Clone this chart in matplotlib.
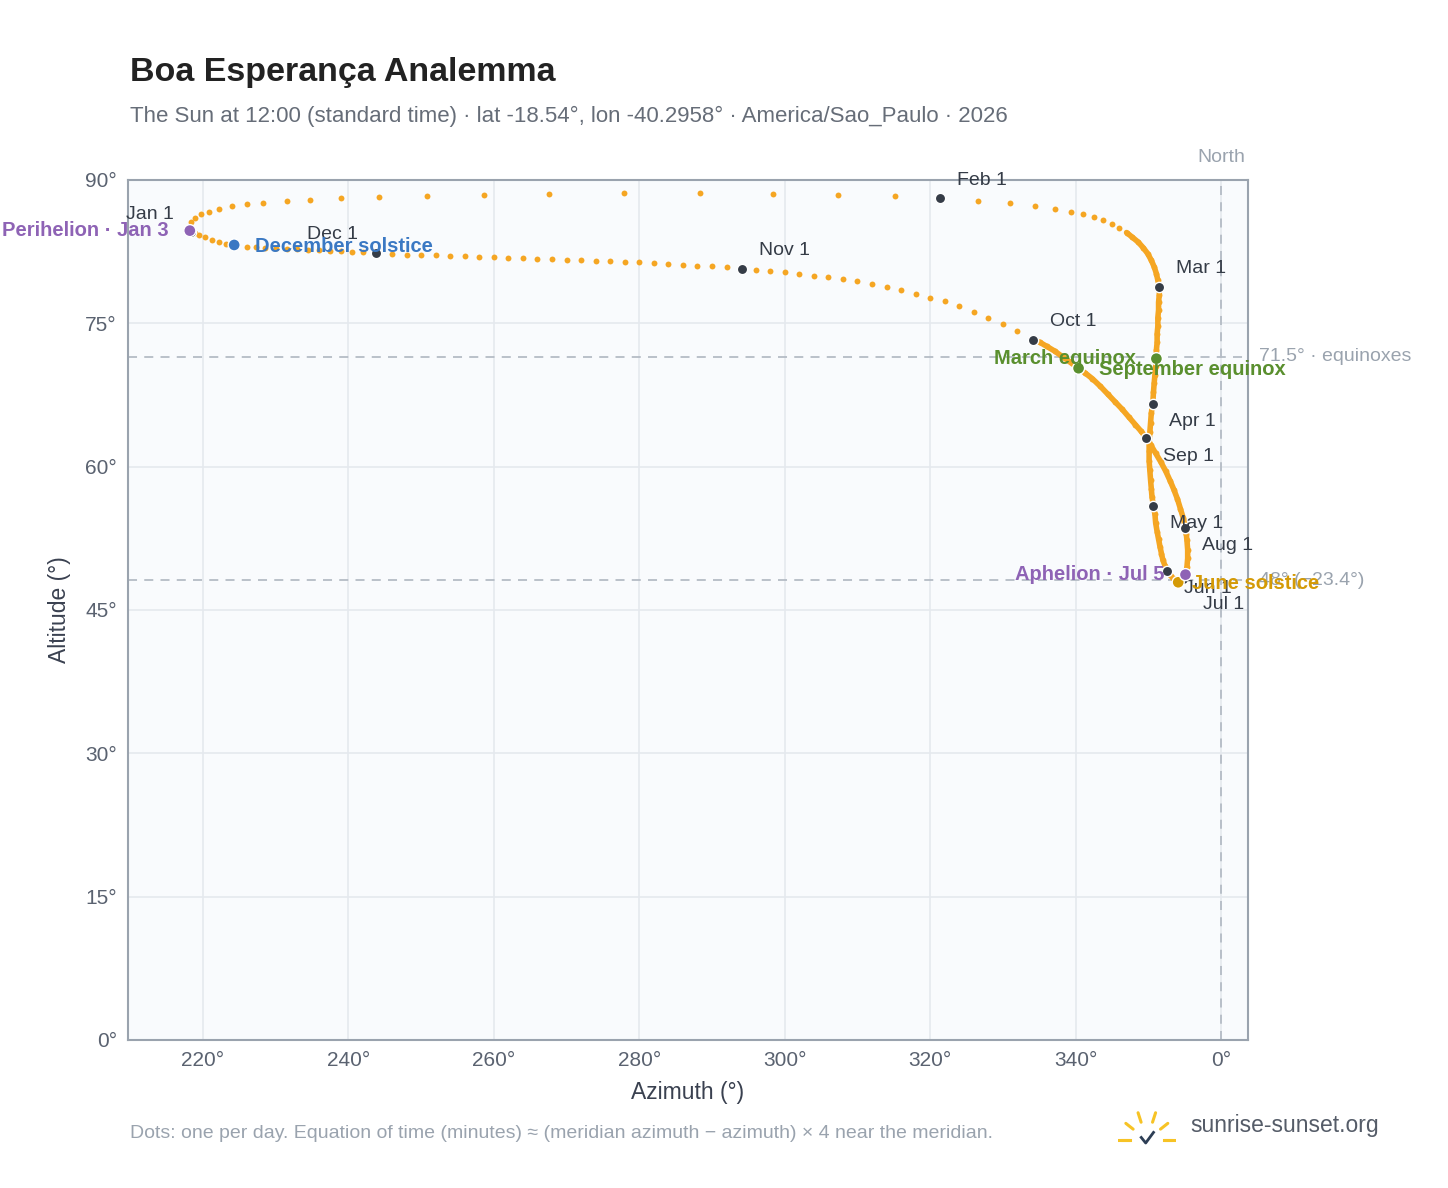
import numpy as np
import matplotlib.pyplot as plt

plt.rcParams["font.family"] = ["Liberation Sans", "DejaVu Sans"]

# track of the sun at local noon (azimuth, altitude)
track_az = [218.4, 218.1, 218.3, 218.9, 219.7, 220.8, 222.2, 224.0, 226.0, 228.3, 231.6, 234.7, 239.0,
            244.2, 250.8, 258.7, 267.6, 277.9, 288.4, 298.4, 307.3, 315.2, 321.4,
            326.6, 331.0, 334.4, 337.1, 339.3, 341.0, 342.5, 343.8, 345.0, 346.0, 347.0, 347.8, 348.6,
            349.3, 349.9, 350.4, 350.8, 351.1, 351.3, 351.5,
            351.5, 351.4, 351.4, 351.3, 351.3, 351.2, 351.2, 351.1, 351.1, 351.0, 350.9, 350.8, 350.7, 350.6,
            350.4, 350.3, 350.2, 350.1, 350.1, 350.1, 350.2, 350.3, 350.4, 350.5, 350.7,
            350.9, 351.0, 351.2, 351.4, 351.6, 351.8, 352.0, 352.3, 352.6,
            353.0, 353.4, 353.8, 354.1, 354.5, 354.8, 355.1,
            355.3, 355.4, 355.4, 355.3, 355.2, 355.1,
            354.8, 354.4, 354.0, 353.5, 353.0, 352.4, 351.7, 351.0, 350.3, 349.7,
            349.0, 348.2, 347.3, 346.4, 345.4, 344.4, 343.4, 342.3, 341.3, 340.4, 339.3, 338.2, 337.1,
            336.0, 335.1, 334.2,
            332.0, 330.0, 328.0, 326.0, 324.0, 322.0, 320.0, 318.0, 316.0, 314.0, 312.0, 310.0, 308.0,
            306.0, 304.0, 302.0, 300.0, 298.0, 296.0, 294.1,
            292.0, 290.0, 288.0, 286.0, 284.0, 282.0, 280.0, 278.0, 276.0, 274.0, 272.0, 270.0, 268.0,
            266.0, 264.0, 262.0, 260.0, 258.0, 256.0, 254.0, 252.0, 250.0, 248.0, 246.0, 243.8,
            242.0, 240.5, 239.0, 237.5, 236.0, 234.5, 233.0, 231.5, 230.0, 228.6, 227.3, 226.0, 224.3,
            223.2, 222.2, 221.2, 220.3, 219.5, 218.9]
track_alt = [84.6, 85.1, 85.6, 86.0, 86.4, 86.7, 87.0, 87.3, 87.5, 87.6, 87.8, 87.9, 88.1,
             88.2, 88.3, 88.4, 88.5, 88.6, 88.6, 88.5, 88.4, 88.3, 88.1,
             87.8, 87.6, 87.3, 87.0, 86.7, 86.4, 86.1, 85.8, 85.4, 85.0, 84.5, 84.0, 83.5,
             82.9, 82.3, 81.6, 80.9, 80.2, 79.5, 78.8,
             78.0, 77.2, 76.4, 75.6, 74.7, 73.9, 73.0, 72.2, 71.3, 70.5, 69.6, 68.8, 67.8, 66.6,
             65.6, 64.6, 63.6, 62.6, 61.6, 60.6, 59.6, 58.6, 57.7, 56.8, 55.9,
             55.0, 54.1, 53.2, 52.4, 51.6, 50.9, 50.2, 49.6, 49.1,
             48.7, 48.3, 48.0, 47.9, 48.0, 48.2, 48.7,
             49.5, 50.4, 51.3, 52.3, 53.0, 53.6,
             54.6, 55.6, 56.6, 57.6, 58.5, 59.5, 60.5, 61.4, 62.3, 63.0,
             63.7, 64.4, 65.2, 66.0, 66.8, 67.6, 68.4, 69.2, 69.8, 70.3, 70.9, 71.5, 72.1,
             72.6, 73.0, 73.3,
             74.2, 74.9, 75.6, 76.2, 76.8, 77.3, 77.7, 78.1, 78.5, 78.8, 79.1, 79.4, 79.6,
             79.8, 80.0, 80.2, 80.35, 80.5, 80.6, 80.7,
             80.85, 81.0, 81.05, 81.15, 81.25, 81.3, 81.4, 81.45, 81.5, 81.55, 81.6, 81.65, 81.7,
             81.75, 81.8, 81.85, 81.9, 81.95, 82.0, 82.05, 82.1, 82.15, 82.2, 82.3, 82.4,
             82.45, 82.5, 82.55, 82.6, 82.65, 82.7, 82.75, 82.8, 82.85, 82.9, 82.95, 83.0, 83.2,
             83.35, 83.55, 83.75, 84.0, 84.25, 84.45]

months = ["Jan 1", "Feb 1", "Mar 1", "Apr 1", "May 1", "Jun 1", "Jul 1", "Aug 1", "Sep 1", "Oct 1", "Nov 1", "Dec 1"]
month_az = [218.4, 321.4, 351.5, 350.6, 350.7, 352.6, 354.8, 355.1, 349.7, 334.2, 294.1, 243.8]
month_alt = [84.6, 88.1, 78.8, 66.6, 55.9, 49.1, 48.2, 53.6, 63.0, 73.3, 80.7, 82.4]
month_offsets = [(-30, 12, "center"), (12, 13, "left"), (12, 13, "left"), (12, -13, "left"),
                 (12, -13, "left"), (12, -13, "left"), (14, -18, "left"), (12, -13, "left"),
                 (12, -13, "left"), (12, 13, "left"), (12, 13, "left"), (-31, 13, "center")]

events = ["Perihelion · Jan 3", "March equinox", "June solstice", "Aphelion · Jul 5",
          "September equinox", "December solstice"]
event_az = [218.2, 351.1, 354.1, 355.1, 340.4, 224.3]
event_alt = [84.7, 71.3, 47.9, 48.7, 70.3, 83.2]
event_colors = ["#8e63b5", "#5a8f2e", "#d49a06", "#8e63b5", "#5a8f2e", "#3a78c3"]
event_offsets = [(-15, 0, "right"), (-15, 0, "right"), (10, -1, "left"), (-15, 0, "right"),
                 (15, -1, "left"), (15, -1, "left")]

equinox_alt = 71.5
solstice_alt = 48.1

ORANGE = "#f5a623"
DARK = "#353c47"

fig = plt.figure(figsize=(14.48, 11.88), dpi=100)
ax = fig.add_axes([0.0884, 0.1246, 0.7735, 0.7239])
ax.set_facecolor("#f9fbfd")

ax.grid(color="#e5e9ee", linewidth=1.2)
ax.set_axisbelow(True)
for s in ax.spines.values():
    s.set_color("#9aa3ae")
    s.set_linewidth(1.5)

ax.axhline(equinox_alt, color="#b5bcc5", ls=(0, (5, 4)), lw=1.3, zorder=1)
ax.axhline(solstice_alt, color="#b5bcc5", ls=(0, (5, 4)), lw=1.3, zorder=1)
ax.axvline(360, color="#b5bcc5", ls=(0, (5, 4)), lw=1.3, zorder=1)
ax.text(1.01, equinox_alt, "71.5° · equinoxes", transform=ax.get_yaxis_transform(),
        va="center", ha="left", fontsize=14, color="#9aa3ae")
ax.text(1.01, solstice_alt, "48° (−23.4°)", transform=ax.get_yaxis_transform(),
        va="center", ha="left", fontsize=14, color="#9aa3ae")
ax.text(360, 91.5, "North", ha="center", va="bottom", fontsize=14, color="#9aa3ae")

az = np.array(track_az)
alt = np.array(track_alt)
ax.plot(az[33:116], alt[33:116], color=ORANGE, lw=4, solid_capstyle="round", zorder=2)
ax.scatter(az, alt, s=18, color=ORANGE, zorder=3, linewidths=0)

ax.scatter(month_az, month_alt, s=55, color=DARK, edgecolor="white", linewidth=1, zorder=4)
for name, x, y, (dx, dy, ha) in zip(months, month_az, month_alt, month_offsets):
    ax.annotate(name, (x, y), xytext=(dx, dy), textcoords="offset points", ha=ha, va="center",
                fontsize=14, color=DARK, zorder=5)

ax.scatter(event_az, event_alt, s=75, color=event_colors, edgecolor="white", linewidth=1, zorder=5)
for name, x, y, c, (dx, dy, ha) in zip(events, event_az, event_alt, event_colors, event_offsets):
    ax.annotate(name, (x, y), xytext=(dx, dy), textcoords="offset points", ha=ha, va="center",
                fontsize=14.5, color=c, fontweight="bold", zorder=6)

ax.set_xlim(209.7, 363.7)
ax.set_ylim(0, 90)
xt = list(range(220, 361, 20))
ax.set_xticks(xt)
ax.set_xticklabels([f"{t % 360}°" for t in xt])
ax.set_yticks(range(0, 91, 15))
ax.set_yticklabels([f"{t}°" for t in range(0, 91, 15)])
ax.tick_params(colors="#5a6270", labelsize=15, length=0, pad=8)
ax.set_xlabel("Azimuth (°)", fontsize=16.5, color="#3a4150", labelpad=8)
ax.set_ylabel("Altitude (°)", fontsize=16.5, color="#3a4150", labelpad=10)

fig.text(0.0895, 0.939, "Boa Esperança Analemma", fontsize=24.5, fontweight="bold", color="#222222", va="center")
fig.text(0.0895, 0.902, "The Sun at 12:00 (standard time) · lat -18.54°, lon -40.2958° · America/Sao_Paulo · 2026",
         fontsize=16, color="#666d78", va="center")
fig.text(0.0895, 0.046, "Dots: one per day. Equation of time (minutes) ≈ (meridian azimuth − azimuth) × 4 near the meridian.",
         fontsize=14, color="#9aa3ae", va="center")

# logo
lax = fig.add_axes([0.772, 0.033, 0.04, 0.035])
lax.set_xlim(-1.3, 1.3)
lax.set_ylim(-0.35, 1.3)
lax.axis("off")
for ang in [0, 35, 70, 110, 145, 180]:
    a = np.radians(ang)
    lax.plot([0.75 * np.cos(a), 1.15 * np.cos(a)], [0.75 * np.sin(a), 1.15 * np.sin(a)],
             color="#f7c325", lw=2.2, solid_capstyle="round")
lax.plot([-1.25, -0.75], [0, 0], color="#f7c325", lw=2.2)
lax.plot([0.75, 1.25], [0, 0], color="#f7c325", lw=2.2)
lax.plot([-0.25, -0.05, 0.3], [0.1, -0.12, 0.3], color="#2d3e55", lw=2)
fig.text(0.822, 0.053, "sunrise-sunset.org", fontsize=16.5, color="#555c68", va="center")

fig.savefig("out.png", dpi=100)
